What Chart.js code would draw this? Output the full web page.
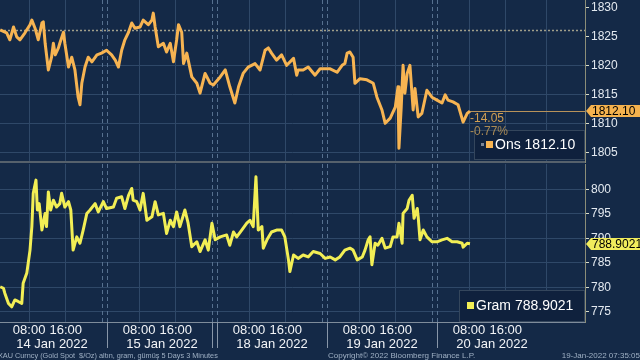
<!DOCTYPE html>
<html>
<head>
<meta charset="utf-8">
<title>XAU altın ons / gram</title>
<script src="https://cdn.jsdelivr.net/npm/chart.js@4.4.1/dist/chart.umd.min.js"></script>
<style>
    html, body { margin: 0; padding: 0; }
    body {
        width: 640px; height: 360px; position: relative; overflow: hidden;
        background: #142947; font-family: "Liberation Sans", Arial, sans-serif;
    }
    canvas { position: absolute; left: 0; display: block; }
    #onsChart { top: 0; }
    #gramChart { top: 163px; }
    .foot {
        position: absolute; top: 351px; font-size: 8px; line-height: 9px;
        color: #9fb0c4; white-space: nowrap;
    }
</style>
</head>
<body>
<canvas id="onsChart" width="640" height="163"></canvas>
<canvas id="gramChart" width="640" height="197"></canvas>
<div class="foot" style="left:-2px;font-size:7.3px">XAU Curncy (Gold Spot &nbsp;$/Oz) altın, gram, gümüş 5 Days 3 Minutes</div>
<div class="foot" style="left:328px">Copyright© 2022 Bloomberg Finance L.P.</div>
<div class="foot" style="right:0">19-Jan-2022 07:35:05</div>

<script>
// === DATA (x = hours since 14 Jan 00:00, sessions compressed as on the terminal) ===

const onsHours = [
    1.7, 3.1, 3.8, 4.6, 5.3, 6.0, 7.1, 8.2, 8.6, 9.3,
    10.0, 10.8, 11.1, 11.5, 12.2, 12.9, 13.3, 13.7, 14.4, 14.7,
    15.5, 15.8, 16.6, 17.3, 18.0, 18.7, 19.1, 19.5, 20.2, 20.9,
    21.7, 22.8, 23.8, 24.9, 26.0, 26.8, 27.5, 28.2, 28.9, 29.7,
    30.4, 31.1, 32.2, 32.9, 34.0, 34.8, 35.1, 35.5, 36.2, 37.3,
    38.0, 38.8, 39.5, 40.2, 40.6, 41.3, 41.7, 42.4, 43.5, 44.6,
    45.3, 46.4, 47.5, 48.2, 49.7, 50.8, 51.8, 52.9, 53.7, 54.7,
    55.8, 57.3, 58.4, 59.5, 60.2, 60.9, 62.0, 63.1, 64.2, 65.7,
    66.4, 66.7, 67.8, 68.9, 70.4, 71.5,
    73.7, 75.2, 76.3, 76.9, 77.4, 78.0, 78.7, 79.1, 80.2, 81.7,
    83.1, 83.9, 85.0, 85.7, 86.8, 87.9, 88.5, 88.7, 89.2, 89.6,
    90.0, 90.5, 91.1, 91.8, 92.2, 92.9, 93.7, 94.8, 95.9, 97.0,
    98.1, 98.8, 99.4, 100.5, 101.6, 102.7, 103.6, 104.2
];
const onsValues = [
    1826.1, 1825.6, 1824.4, 1826.6, 1824.9, 1824.4, 1825.6, 1827.0, 1827.8, 1826.4,
    1824.4, 1827.3, 1827.5, 1823.8, 1819.2, 1821.4, 1823.8, 1821.8, 1823.0, 1823.8,
    1825.7, 1823.8, 1819.7, 1821.4, 1819.2, 1814.5, 1813.2, 1816.9, 1819.7, 1821.4,
    1820.6, 1821.8, 1822.1, 1822.6, 1821.8, 1820.9, 1819.7, 1822.6, 1824.4, 1825.7,
    1827.3, 1826.4, 1826.6, 1827.8, 1827.0, 1827.8, 1829.0, 1826.6, 1823.2, 1823.8,
    1822.3, 1823.8, 1820.6, 1824.4, 1827.0, 1825.7, 1820.3, 1822.1, 1818.0, 1816.9,
    1815.2, 1818.6, 1816.9, 1816.6, 1818.0, 1819.2, 1816.3, 1813.5, 1816.3, 1818.6,
    1819.7, 1820.3, 1819.2, 1822.6, 1823.0, 1822.1, 1820.9, 1821.8, 1820.0, 1821.2,
    1818.3, 1819.2, 1819.2, 1819.7, 1818.3, 1819.4,
    1819.4, 1818.8, 1820.0, 1820.3, 1822.1, 1822.3, 1821.4, 1816.9, 1817.7, 1817.5,
    1816.9, 1814.5, 1812.3, 1810.0, 1810.9, 1812.8, 1816.3, 1805.7, 1812.8, 1820.0,
    1815.2, 1818.6, 1820.0, 1812.3, 1816.0, 1811.1, 1811.7, 1815.7, 1814.5, 1814.0,
    1813.5, 1814.9, 1814.0, 1813.7, 1813.2, 1810.2, 1811.7, 1812.10
];

const gramHours = [
    1.7, 2.4, 2.7, 3.5, 4.2, 4.9, 5.6, 6.4, 6.7, 7.5,
    8.2, 8.6, 8.9, 9.5, 9.8, 10.2, 10.8, 11.5, 11.8, 12.2,
    12.7, 13.3, 14.0, 14.7, 15.1, 15.8, 16.6, 17.1, 17.6, 18.4,
    19.1, 19.8, 20.6, 21.3, 22.4, 23.1, 24.2, 24.9, 26.4, 27.1,
    28.2, 28.9, 29.7, 30.4, 30.7, 31.5, 32.2, 32.9, 33.7, 34.8,
    35.5, 36.2, 37.3, 38.0, 38.8, 39.5, 40.2, 40.9, 42.0, 42.7,
    43.5, 44.6, 45.3, 46.4, 47.1, 47.9, 48.6, 49.7, 51.1, 51.8,
    52.6, 53.3, 54.4, 55.5, 56.2, 56.9, 57.5, 58.0, 58.8, 59.1,
    59.9, 60.9, 62.0, 63.1, 63.8, 64.6, 64.9, 65.7, 66.7, 67.8,
    68.9, 70.0, 71.5,
    72.6, 73.7, 74.8, 75.8, 76.9, 78.0, 78.7, 79.6, 80.7, 81.3,
    82.0, 82.4, 82.8, 83.5, 84.1, 85.0, 85.7, 86.8, 87.4, 88.3,
    88.7, 89.4, 89.6, 90.5, 90.9, 91.6, 92.0, 92.7, 92.9, 93.3,
    94.0, 94.8, 95.9, 97.0, 98.1, 99.2, 100.3, 101.4, 102.5, 102.7,
    103.6, 104.2
];
const gramValues = [
    780.1, 779.8, 778.8, 776.7, 776.0, 777.4, 777.1, 776.7, 780.8, 782.9,
    787.6, 792.4, 799.2, 801.9, 795.8, 797.1, 791.7, 795.1, 792.4, 799.5,
    795.8, 797.8, 796.4, 797.1, 799.2, 796.4, 797.5, 795.8, 787.6, 790.3,
    789.0, 791.7, 795.1, 795.8, 797.1, 795.4, 797.5, 796.1, 796.4, 798.2,
    798.5, 796.1, 798.8, 800.2, 797.8, 797.5, 795.8, 799.2, 793.7, 794.4,
    797.5, 794.8, 795.1, 791.0, 793.7, 792.4, 795.4, 792.4, 795.8, 793.1,
    788.3, 789.3, 787.3, 789.7, 787.6, 793.1, 789.7, 790.3, 790.7, 788.6,
    791.3, 790.3, 791.7, 793.1, 793.7, 792.4, 802.6, 791.7, 792.4, 788.0,
    789.7, 791.3, 791.7, 791.7, 790.3, 785.6, 783.2, 786.6, 785.9, 786.6,
    786.2, 787.3, 786.9,
    785.9, 786.2, 785.6, 786.2, 787.6, 788.0, 787.6, 785.6, 786.2, 787.6,
    789.7, 790.3, 784.6, 789.0, 788.6, 790.0, 788.0, 788.3, 790.3, 790.3,
    793.1, 789.0, 795.1, 796.1, 797.8, 798.8, 794.1, 796.1, 794.4, 789.7,
    791.7, 790.3, 789.3, 789.3, 789.7, 790.0, 789.3, 789.3, 789.0, 788.2,
    789.0, 788.9021
];

const onsPrevClose = 1826.15;

// axis ticks
const onsTicks = [1805, 1810, 1815, 1820, 1825, 1830];
const onsGridTicks = [1805, 1810, 1815, 1820];
const gramTicks = [775, 780, 785, 790, 795, 800];
const timeTicks = [8, 16, 32, 40, 56, 64, 80, 88, 104, 112];
const timeLabels = ['08:00', '16:00', '08:00', '16:00', '08:00', '16:00', '08:00', '16:00', '08:00', '16:00'];
const dayCenters = [13, 37, 61, 85, 109];
const dayLabels = ['14 Jan 2022', '15 Jan 2022', '18 Jan 2022', '19 Jan 2022', '20 Jan 2022'];
const extraGrid = [121];
const sessionBreaks = [24, 25, 48, 49, 72, 73, 96, 97];
const dayStarts = [25, 48, 49, 73, 97];

// === STYLE ===
const FONT = '"Liberation Sans", Arial, sans-serif';
const NAVY = '#142947';
const GRID = '#2f4868';
const ORANGE = '#f7b452';
const YELLOW = '#f2ee55';
const X_MIN = 1.65;
const X_MAX = 129.3;

Chart.defaults.font.family = FONT;

const xTickValues = [...timeTicks, ...dayCenters, ...extraGrid].sort((a, b) => a - b);

function toPoints(hours, values) {
    return hours.map((h, i) => ({ x: h, y: values[i] }));
}

function xScale(showLabels) {
    return {
        type: 'linear',
        min: X_MIN,
        max: X_MAX,
        afterBuildTicks: scale => { scale.ticks = xTickValues.map(v => ({ value: v })); },
        afterFit: scale => {
            scale.height = showLabels ? 38 : 0;
            scale.paddingLeft = 0;
            scale.paddingRight = 0;
        },
        grid: {
            color: ctx => (ctx.tick && dayCenters.includes(ctx.tick.value)) ? 'transparent' : GRID,
            lineWidth: 1,
            drawTicks: false
        },
        border: { display: showLabels, color: '#7f8c9b' },
        ticks: {
            display: showLabels,
            autoSkip: false,
            maxRotation: 0,
            minRotation: 0,
            padding: 2,
            color: '#f2f4f7',
            font: { size: 13, lineHeight: 1.05 },
            callback: value => {
                const d = dayCenters.indexOf(value);
                if (d >= 0) return ['', dayLabels[d]];
                const t = timeTicks.indexOf(value);
                return t >= 0 ? timeLabels[t] : '';
            }
        }
    };
}

function yScale(min, max, ticks, gridTicks) {
    return {
        position: 'right',
        min: min,
        max: max,
        afterBuildTicks: scale => { scale.ticks = ticks.map(v => ({ value: v })); },
        afterFit: scale => {
            scale.width = 55;
            scale.paddingTop = 0;
            scale.paddingBottom = 0;
        },
        grid: {
            color: ctx => (ctx.tick && gridTicks.includes(ctx.tick.value)) ? GRID : 'transparent',
            tickLength: 4,
            tickColor: '#d8dccb'
        },
        border: { color: '#8b8d78' },
        ticks: {
            color: '#e3e9f0',
            padding: 2,
            font: { size: 12 },
            callback: value => String(value)
        }
    };
}

function fillBackground(chart) {
    const { ctx, width, height } = chart;
    ctx.save();
    ctx.fillStyle = NAVY;
    ctx.fillRect(0, 0, width, height);
    ctx.restore();
}

function drawBreaks(chart) {
    const { ctx, chartArea, scales } = chart;
    ctx.save();
    ctx.strokeStyle = '#56708f';
    ctx.lineWidth = 1;
    ctx.setLineDash([4, 3]);
    sessionBreaks.forEach(h => {
        const px = Math.round(scales.x.getPixelForValue(h)) + 0.5;
        ctx.beginPath();
        ctx.moveTo(px, chartArea.top);
        ctx.lineTo(px, chartArea.bottom);
        ctx.stroke();
    });
    ctx.restore();
}

// price tag on the right axis, arrow pointing at the last value
function drawTag(chart, value, text, fill) {
    const { ctx, chartArea, width } = chart;
    const y = Math.round(chart.scales.y.getPixelForValue(value));
    const x0 = chartArea.right + 1;
    ctx.save();
    ctx.fillStyle = fill;
    ctx.beginPath();
    ctx.moveTo(x0, y);
    ctx.lineTo(x0 + 5, y - 6);
    ctx.lineTo(width, y - 6);
    ctx.lineTo(width, y + 6);
    ctx.lineTo(x0 + 5, y + 6);
    ctx.closePath();
    ctx.fill();
    ctx.fillStyle = '#000';
    ctx.font = '12px ' + FONT;
    ctx.textBaseline = 'middle';
    ctx.fillText(text, x0 + 6, y + 0.5);
    ctx.restore();
}

function drawLegend(ctx, box, swatch, label) {
    ctx.save();
    ctx.fillStyle = '#0f213d';
    ctx.fillRect(box.x, box.y, box.w, box.h);
    ctx.strokeStyle = '#34465c';
    ctx.lineWidth = 1;
    ctx.strokeRect(box.x + 0.5, box.y + 0.5, box.w - 1, box.h - 1);
    if (swatch.grey) {
        ctx.fillStyle = '#7b8696';
        ctx.fillRect(swatch.x - 5, swatch.y + 2, 3, 3);
    }
    ctx.fillStyle = swatch.color;
    ctx.fillRect(swatch.x, swatch.y, 7, 7);
    ctx.fillStyle = '#ffffff';
    ctx.font = '14px ' + FONT;
    ctx.textBaseline = 'middle';
    ctx.fillText(label, swatch.x + 9, swatch.y + 4);
    ctx.restore();
}

const onsOverlay = {
    id: 'onsOverlay',
    beforeDraw: fillBackground,
    beforeDatasetsDraw(chart) {
        const { ctx, chartArea, scales } = chart;
        drawBreaks(chart);
        ctx.save();
        // previous close
        const yPrev = Math.round(scales.y.getPixelForValue(onsPrevClose)) + 0.5;
        ctx.strokeStyle = '#a19f8a';
        ctx.lineWidth = 1.5;
        ctx.setLineDash([2, 2]);
        ctx.beginPath();
        ctx.moveTo(chartArea.left, yPrev);
        ctx.lineTo(chartArea.right, yPrev);
        ctx.stroke();
        // last price line
        const last = onsValues.length - 1;
        const yLast = Math.round(scales.y.getPixelForValue(onsValues[last])) + 0.5;
        ctx.setLineDash([]);
        ctx.lineWidth = 1;
        ctx.strokeStyle = '#b8925a';
        ctx.beginPath();
        ctx.moveTo(scales.x.getPixelForValue(onsHours[last]), yLast);
        ctx.lineTo(chartArea.right, yLast);
        ctx.stroke();
        ctx.restore();
    },
    afterDraw(chart) {
        const { ctx, chartArea, scales } = chart;
        const last = onsValues.length - 1;
        const change = onsValues[last] - onsPrevClose;
        const pct = change / onsPrevClose * 100;
        const xEnd = scales.x.getPixelForValue(onsHours[last]);
        const yLast = scales.y.getPixelForValue(onsValues[last]);

        // panel separator
        ctx.save();
        ctx.fillStyle = '#56616c';
        ctx.fillRect(0, chartArea.bottom - 2, chartArea.right, 2);
        ctx.restore();

        drawLegend(ctx, { x: chartArea.right - 111, y: 130, w: 111, h: 30 },
            { x: 486, y: 141, color: ORANGE, grey: true },
            'Ons ' + onsValues[last].toFixed(2));
        drawTag(chart, onsValues[last], onsValues[last].toFixed(2), '#f5b24e');

        // change since previous close, drawn over the legend edge
        ctx.save();
        ctx.font = '12px ' + FONT;
        ctx.textBaseline = 'middle';
        ctx.fillStyle = '#d29f52';
        ctx.fillText(change.toFixed(2), xEnd, yLast + 8);
        ctx.fillStyle = '#a98a55';
        ctx.fillText(pct.toFixed(2) + '%', xEnd, yLast + 21);
        ctx.restore();
    }
};

const gramOverlay = {
    id: 'gramOverlay',
    beforeDraw: fillBackground,
    beforeDatasetsDraw(chart) {
        const { ctx, chartArea, scales } = chart;
        drawBreaks(chart);
        // day separators through the label rows
        ctx.save();
        ctx.strokeStyle = '#8896a8';
        ctx.lineWidth = 1;
        dayStarts.forEach(h => {
            const px = Math.round(scales.x.getPixelForValue(h)) + 0.5;
            ctx.beginPath();
            ctx.moveTo(px, chartArea.bottom);
            ctx.lineTo(px, chartArea.bottom + 26);
            ctx.stroke();
        });
        ctx.restore();
    },
    afterDraw(chart) {
        const { ctx, chartArea } = chart;
        const last = gramValues.length - 1;
        drawLegend(ctx, { x: chartArea.right - 126, y: 127, w: 126, h: chartArea.bottom - 127 },
            { x: 467, y: 139, color: YELLOW, grey: false },
            'Gram ' + gramValues[last].toFixed(4));
        drawTag(chart, gramValues[last], gramValues[last].toFixed(4), '#f1ec5c');
    }
};

function lineDataset(points, color) {
    return {
        data: points,
        borderColor: color,
        borderWidth: 3,
        borderJoinStyle: 'round',
        pointRadius: 0,
        tension: 0,
        fill: false
    };
}

const commonOptions = {
    responsive: false,
    animation: false,
    events: [],
    plugins: { legend: { display: false }, tooltip: { enabled: false } }
};

new Chart(document.getElementById('onsChart'), {
    type: 'line',
    data: { datasets: [lineDataset(toPoints(onsHours, onsValues), ORANGE)] },
    options: {
        ...commonOptions,
        layout: { padding: 0 },
        scales: {
            x: xScale(false),
            y: yScale(1803.16, 1831.26, onsTicks, onsGridTicks)
        }
    },
    plugins: [onsOverlay]
});

new Chart(document.getElementById('gramChart'), {
    type: 'line',
    data: { datasets: [lineDataset(toPoints(gramHours, gramValues), YELLOW)] },
    options: {
        ...commonOptions,
        layout: { padding: { top: 1, left: 0, right: 0, bottom: 0 } },
        scales: {
            x: xScale(true),
            y: yScale(772.9, 805.2, gramTicks, gramTicks)
        }
    },
    plugins: [gramOverlay]
});
</script>
</body>
</html>
